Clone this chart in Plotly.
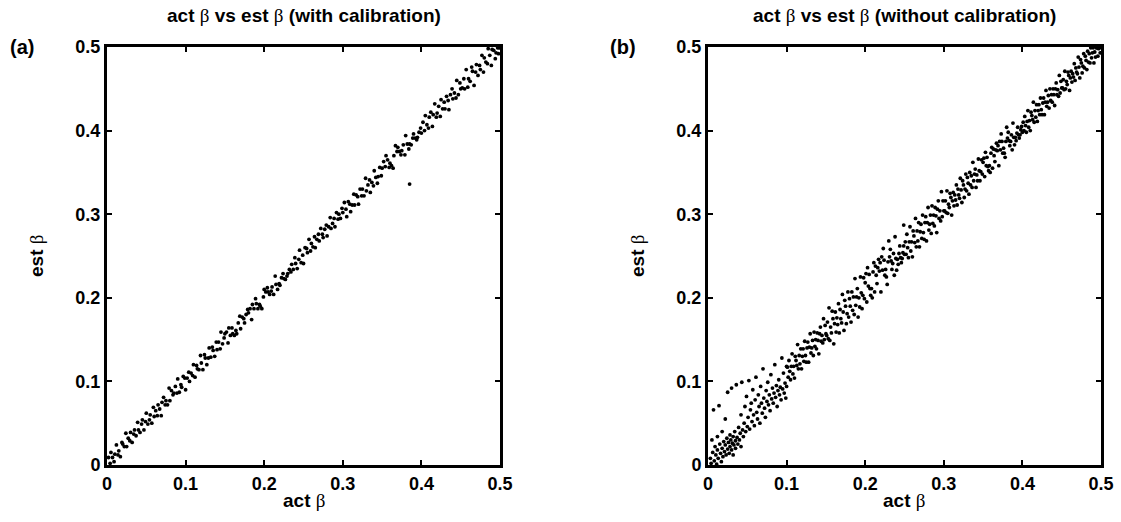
import plotly.graph_objects as go

# ---------- data ----------
act_a = [0.002,0.004,0.005,0.007,0.009,0.010,0.012,0.014,0.015,0.017,0.019,0.020,0.022,0.024,0.025,0.027,0.029,0.030,0.032,0.034,0.035,0.037,0.039,0.040,0.042,0.044,0.045,0.047,0.049,0.050,
         0.052,0.054,0.055,0.057,0.059,0.060,0.062,0.064,0.065,0.067,0.069,0.070,0.072,0.074,0.075,0.077,0.079,0.080,0.082,0.084,0.085,0.087,0.089,0.090,0.092,0.094,0.095,0.097,0.099,0.100,
         0.102,0.104,0.105,0.107,0.109,0.110,0.112,0.114,0.115,0.117,0.119,0.120,0.122,0.124,0.125,0.127,0.129,0.130,0.132,0.134,0.135,0.137,0.139,0.140,0.142,0.144,0.145,0.147,0.149,0.150,
         0.152,0.154,0.155,0.157,0.159,0.160,0.162,0.164,0.165,0.167,0.169,0.170,0.172,0.174,0.175,0.177,0.179,0.180,0.182,0.184,0.185,0.187,0.189,0.190,0.192,0.194,0.195,0.197,0.199,0.200,
         0.202,0.204,0.205,0.207,0.209,0.210,0.212,0.214,0.215,0.217,0.219,0.220,0.222,0.224,0.225,0.227,0.229,0.230,0.232,0.234,0.235,0.237,0.239,0.240,0.242,0.244,0.245,0.247,0.249,0.250,
         0.252,0.254,0.255,0.257,0.259,0.260,0.262,0.264,0.265,0.267,0.269,0.270,0.272,0.274,0.275,0.277,0.279,0.280,0.282,0.284,0.285,0.287,0.289,0.290,0.292,0.294,0.295,0.297,0.299,0.300,
         0.302,0.304,0.305,0.307,0.309,0.310,0.312,0.314,0.315,0.317,0.319,0.320,0.322,0.324,0.325,0.327,0.329,0.330,0.332,0.334,0.335,0.337,0.339,0.340,0.342,0.344,0.345,0.347,0.349,0.350,
         0.352,0.354,0.355,0.357,0.359,0.360,0.362,0.364,0.365,0.367,0.369,0.370,0.372,0.374,0.375,0.377,0.379,0.380,0.382,0.384,0.385,0.387,0.389,0.390,0.392,0.394,0.395,0.397,0.399,0.400,0.385,
         0.402,0.404,0.405,0.407,0.409,0.410,0.412,0.414,0.415,0.417,0.419,0.420,0.422,0.424,0.425,0.427,0.429,0.430,0.432,0.434,0.435,0.437,0.439,0.440,0.442,0.444,0.445,0.447,0.449,0.450,
         0.452,0.454,0.455,0.457,0.459,0.460,0.462,0.464,0.465,0.467,0.469,0.470,0.472,0.474,0.475,0.477,0.479,0.480,0.482,0.484,0.485,0.487,0.489,0.490,0.492,0.494,0.495,0.497,0.498,0.499]
est_a = [0.009,0.002,0.015,0.009,0.004,0.013,0.024,0.012,0.017,0.010,0.027,0.025,0.022,0.038,0.022,0.032,0.029,0.039,0.027,0.037,0.042,0.035,0.051,0.042,0.039,0.049,0.054,0.042,0.052,0.062,
         0.049,0.054,0.060,0.050,0.069,0.058,0.065,0.059,0.072,0.067,0.059,0.075,0.081,0.072,0.077,0.072,0.092,0.077,0.089,0.084,0.086,0.094,0.086,0.103,0.087,0.096,0.093,0.106,0.104,0.090,
         0.104,0.111,0.100,0.110,0.107,0.120,0.105,0.119,0.115,0.114,0.131,0.122,0.114,0.132,0.128,0.120,0.128,0.140,0.129,0.141,0.137,0.130,0.147,0.138,0.147,0.139,0.159,0.145,0.152,0.157,
         0.159,0.146,0.164,0.155,0.164,0.157,0.155,0.161,0.157,0.170,0.178,0.163,0.177,0.175,0.170,0.180,0.186,0.182,0.187,0.174,0.192,0.187,0.199,0.193,0.187,0.192,0.190,0.187,0.201,0.210,
         0.207,0.212,0.207,0.204,0.208,0.213,0.204,0.226,0.216,0.210,0.217,0.215,0.224,0.229,0.223,0.222,0.226,0.229,0.234,0.231,0.240,0.234,0.248,0.241,0.235,0.246,0.257,0.242,0.251,0.241,
         0.260,0.259,0.254,0.270,0.256,0.265,0.261,0.273,0.260,0.270,0.276,0.268,0.283,0.276,0.272,0.282,0.287,0.274,0.285,0.296,0.283,0.289,0.295,0.285,0.302,0.294,0.300,0.295,0.307,0.302,
         0.314,0.306,0.297,0.315,0.312,0.303,0.311,0.324,0.311,0.323,0.321,0.312,0.330,0.322,0.330,0.322,0.343,0.328,0.335,0.341,0.326,0.338,0.334,0.352,0.344,0.337,0.345,0.356,0.346,0.355,
         0.363,0.357,0.370,0.365,0.356,0.361,0.358,0.355,0.370,0.382,0.375,0.380,0.375,0.371,0.376,0.383,0.371,0.394,0.384,0.378,0.384,0.383,0.391,0.396,0.391,0.389,0.392,0.398,0.403,0.397,0.336,
         0.410,0.400,0.418,0.407,0.403,0.416,0.422,0.405,0.419,0.432,0.416,0.421,0.429,0.417,0.437,0.426,0.434,0.426,0.441,0.436,0.425,0.443,0.450,0.438,0.445,0.439,0.460,0.443,0.457,0.450,
         0.451,0.462,0.450,0.473,0.452,0.462,0.459,0.476,0.471,0.454,0.470,0.479,0.466,0.478,0.473,0.490,0.470,0.487,0.482,0.480,0.498,0.490,0.478,0.497,0.496,0.486,0.493,0.499,0.492,0.499]

act_b = [0.003,0.004,0.005,0.006,0.007,0.008,0.009,0.010,0.011,0.012,0.012,0.013,0.014,0.015,0.016,0.017,0.018,0.018,0.019,0.020,0.021,0.022,0.022,0.023,0.024,0.025,0.025,0.026,0.027,0.028,0.028,0.029,0.030,0.030,0.031,0.032,0.032,0.033,0.034,0.035,0.035,0.036,0.037,0.038,0.039,0.040,0.041,0.042,0.042,0.043,0.044,0.045,0.046,0.047,0.048,0.049,0.050,
         0.051,0.052,0.053,0.054,0.055,0.056,0.057,0.058,0.059,0.060,0.061,0.062,0.063,0.064,0.065,0.066,0.067,0.068,0.069,0.070,0.071,0.072,0.073,0.074,0.075,0.076,0.077,0.078,0.079,0.080,0.081,0.082,0.083,0.084,0.085,0.086,0.087,0.088,0.089,0.090,0.091,0.092,0.093,0.094,0.095,0.096,0.097,0.098,0.099,0.100,0.100,
         0.101,0.102,0.103,0.104,0.105,0.106,0.107,0.108,0.109,0.110,0.111,0.112,0.113,0.114,0.115,0.116,0.117,0.118,0.119,0.120,0.121,0.122,0.123,0.124,0.125,0.126,0.127,0.128,0.129,0.130,0.131,0.132,0.133,0.134,0.135,0.136,0.137,0.138,0.139,0.140,0.141,0.142,0.143,0.144,0.145,0.146,0.147,0.148,0.149,0.150,
         0.151,0.152,0.153,0.154,0.155,0.156,0.157,0.158,0.159,0.160,0.161,0.162,0.163,0.164,0.165,0.166,0.167,0.168,0.169,0.170,0.171,0.172,0.173,0.174,0.175,0.176,0.177,0.178,0.179,0.180,0.181,0.182,0.183,0.184,0.185,0.186,0.187,0.188,0.189,0.190,0.191,0.192,0.193,0.194,0.195,0.196,0.197,0.198,0.199,0.200,
         0.201,0.202,0.203,0.204,0.205,0.206,0.207,0.208,0.209,0.210,0.211,0.212,0.213,0.214,0.215,0.216,0.217,0.218,0.219,0.220,0.221,0.222,0.223,0.224,0.225,0.226,0.227,0.228,0.229,0.230,0.231,0.232,0.233,0.234,0.235,0.236,0.237,0.238,0.239,0.240,0.241,0.242,0.243,0.244,0.245,0.246,0.247,0.248,0.249,0.250,0.249,
         0.251,0.252,0.253,0.254,0.255,0.256,0.257,0.258,0.259,0.260,0.261,0.262,0.263,0.264,0.265,0.266,0.267,0.268,0.269,0.270,0.271,0.272,0.273,0.274,0.275,0.276,0.277,0.278,0.279,0.280,0.281,0.282,0.283,0.284,0.285,0.286,0.287,0.288,0.289,0.290,0.291,0.292,0.293,0.294,0.295,0.296,0.297,0.298,0.299,0.300,
         0.301,0.302,0.303,0.304,0.305,0.306,0.307,0.308,0.309,0.310,0.311,0.312,0.313,0.314,0.315,0.316,0.317,0.318,0.319,0.320,0.321,0.322,0.323,0.324,0.325,0.326,0.327,0.328,0.329,0.330,0.331,0.332,0.333,0.334,0.335,0.336,0.337,0.338,0.339,0.340,0.341,0.342,0.343,0.344,0.345,0.346,0.347,0.348,0.349,0.350,
         0.351,0.352,0.353,0.354,0.355,0.356,0.357,0.358,0.359,0.360,0.361,0.362,0.363,0.364,0.365,0.366,0.367,0.368,0.369,0.370,0.371,0.372,0.373,0.374,0.375,0.376,0.377,0.378,0.379,0.380,0.381,0.382,0.383,0.384,0.385,0.386,0.387,0.388,0.389,0.390,0.391,0.392,0.393,0.394,0.395,0.396,0.397,0.398,0.399,0.400,
         0.401,0.402,0.403,0.404,0.405,0.406,0.407,0.408,0.409,0.410,0.411,0.412,0.413,0.414,0.415,0.416,0.417,0.418,0.419,0.420,0.421,0.422,0.423,0.424,0.425,0.426,0.427,0.428,0.429,0.430,0.431,0.432,0.433,0.434,0.435,0.436,0.437,0.438,0.439,0.440,0.441,0.442,0.443,0.444,0.445,0.446,0.447,0.448,0.449,0.450,
         0.451,0.452,0.453,0.454,0.455,0.456,0.457,0.458,0.459,0.460,0.461,0.462,0.463,0.464,0.465,0.466,0.467,0.468,0.469,0.470,0.471,0.472,0.473,0.474,0.475,0.476,0.477,0.478,0.479,0.480,0.481,0.482,0.483,0.484,0.485,0.486,0.487,0.488,0.489,0.490,0.491,0.492,0.493,0.494,0.495,0.496,0.497,0.498,0.499]
est_b = [0.008,0.002,0.030,0.015,0.066,0.005,0.022,0.012,0.001,0.034,0.018,0.008,0.071,0.025,0.014,0.004,0.020,0.040,0.010,0.028,0.016,0.055,0.024,0.012,0.032,0.019,0.087,0.027,0.014,0.036,0.022,0.030,0.018,0.092,0.026,0.034,0.012,0.024,0.040,0.029,0.020,0.096,0.033,0.025,0.045,0.030,0.038,0.060,0.022,0.099,0.042,0.034,0.050,0.070,0.040,0.082,0.046,
         0.057,0.101,0.043,0.066,0.074,0.052,0.090,0.060,0.047,0.078,0.105,0.063,0.055,0.084,0.070,0.050,0.094,0.074,0.062,0.115,0.080,0.068,0.057,0.089,0.076,0.099,0.072,0.084,0.065,0.108,0.079,0.092,0.074,0.086,0.120,0.081,0.095,0.070,0.089,0.102,0.084,0.093,0.078,0.128,0.091,0.110,0.086,0.098,0.080,0.094,0.118,
         0.117,0.105,0.125,0.112,0.102,0.118,0.133,0.109,0.118,0.104,0.130,0.125,0.119,0.144,0.115,0.131,0.121,0.139,0.115,0.130,0.139,0.124,0.148,0.131,0.123,0.140,0.147,0.123,0.141,0.157,0.134,0.140,0.149,0.131,0.159,0.142,0.150,0.139,0.158,0.149,0.133,0.157,0.165,0.148,0.155,0.146,0.175,0.150,0.167,0.157,
         0.155,0.171,0.151,0.188,0.149,0.165,0.158,0.184,0.175,0.145,0.169,0.183,0.159,0.176,0.168,0.193,0.158,0.186,0.175,0.170,0.204,0.183,0.161,0.197,0.190,0.169,0.181,0.207,0.177,0.199,0.190,0.171,0.207,0.185,0.201,0.180,0.223,0.191,0.201,0.211,0.177,0.200,0.189,0.225,0.206,0.187,0.203,0.224,0.199,0.218,
         0.229,0.195,0.236,0.214,0.228,0.211,0.203,0.211,0.200,0.231,0.242,0.207,0.238,0.227,0.217,0.236,0.246,0.232,0.242,0.207,0.249,0.233,0.259,0.245,0.227,0.234,0.225,0.216,0.243,0.268,0.249,0.258,0.244,0.234,0.241,0.253,0.227,0.273,0.247,0.233,0.246,0.240,0.253,0.262,0.248,0.242,0.247,0.254,0.262,0.252,0.287,
         0.267,0.252,0.276,0.260,0.248,0.267,0.285,0.256,0.267,0.249,0.280,0.274,0.266,0.295,0.261,0.280,0.268,0.290,0.261,0.279,0.288,0.271,0.299,0.278,0.270,0.290,0.297,0.268,0.290,0.308,0.281,0.288,0.299,0.277,0.310,0.289,0.299,0.286,0.308,0.298,0.278,0.306,0.316,0.295,0.304,0.292,0.327,0.297,0.316,0.304,
         0.304,0.316,0.302,0.328,0.301,0.312,0.308,0.325,0.320,0.299,0.316,0.326,0.310,0.323,0.317,0.335,0.311,0.330,0.323,0.319,0.343,0.329,0.314,0.340,0.335,0.320,0.330,0.348,0.328,0.344,0.337,0.324,0.350,0.335,0.346,0.332,0.362,0.340,0.348,0.354,0.332,0.347,0.340,0.366,0.352,0.340,0.351,0.365,0.348,0.362,
         0.367,0.345,0.374,0.358,0.368,0.357,0.352,0.358,0.350,0.373,0.380,0.355,0.378,0.370,0.363,0.377,0.385,0.376,0.382,0.358,0.387,0.377,0.396,0.387,0.373,0.379,0.373,0.368,0.387,0.404,0.391,0.398,0.388,0.382,0.387,0.395,0.377,0.409,0.392,0.383,0.392,0.388,0.397,0.404,0.395,0.391,0.395,0.401,0.405,0.398,
         0.410,0.400,0.417,0.406,0.398,0.411,0.424,0.404,0.412,0.400,0.422,0.418,0.413,0.434,0.410,0.424,0.416,0.431,0.411,0.424,0.431,0.419,0.439,0.425,0.419,0.433,0.439,0.419,0.434,0.448,0.429,0.434,0.442,0.427,0.450,0.436,0.443,0.434,0.450,0.443,0.430,0.450,0.457,0.443,0.449,0.441,0.466,0.445,0.459,0.451,
         0.451,0.461,0.449,0.471,0.450,0.459,0.455,0.470,0.466,0.448,0.463,0.471,0.458,0.468,0.464,0.480,0.460,0.475,0.470,0.468,0.488,0.476,0.463,0.485,0.481,0.469,0.477,0.492,0.475,0.489,0.484,0.473,0.495,0.482,0.492,0.481,0.499,0.487,0.493,0.499,0.481,0.494,0.488,0.499,0.499,0.489,0.498,0.499,0.493]

tick_vals = [0, 0.1, 0.2, 0.3, 0.4, 0.5]
tick_text = ["0", "0.1", "0.2", "0.3", "0.4", "0.5"]
BETA = "<span style=\"font-family:'Liberation Serif';font-weight:normal\">β</span>"
titles = ["act " + BETA + " vs est " + BETA + " (with calibration)",
          "act " + BETA + " vs est " + BETA + " (without calibration)"]
panel_labels = ["(a)", "(b)"]
xlabel = "act " + BETA
ylabel = "est " + BETA

W, H = 1121, 522
FONT = "Liberation Sans, Arial, sans-serif"

fig = go.Figure()
fig.add_trace(go.Scatter(x=act_a, y=est_a, mode="markers", xaxis="x", yaxis="y",
                         marker=dict(color="black", size=3.8, line=dict(width=0)), showlegend=False))
fig.add_trace(go.Scatter(x=act_b, y=est_b, mode="markers", xaxis="x2", yaxis="y2",
                         marker=dict(color="black", size=3.8, line=dict(width=0)), showlegend=False))

xl = [(107 / W, 500 / W), (708 / W, 1101 / W)]
yd = ((H - 465) / H, (H - 47) / H)

axis_common = dict(range=[0, 0.5], tickvals=tick_vals, ticktext=tick_text, showgrid=False, zeroline=False,
                   showline=True, linecolor="black", linewidth=3, mirror="ticks", automargin=False,
                   ticks="inside", ticklen=5, tickwidth=2, tickcolor="black",
                   tickfont=dict(family=FONT, size=18, color="black", weight="bold"))

fig.update_layout(
    template="none",
    width=W, height=H, margin=dict(l=0, r=0, t=0, b=0, autoexpand=False),
    paper_bgcolor="white", plot_bgcolor="white",
    xaxis=dict(domain=xl[0], anchor="y", **axis_common),
    yaxis=dict(domain=yd, anchor="x", **axis_common),
    xaxis2=dict(domain=xl[1], anchor="y2", **axis_common),
    yaxis2=dict(domain=yd, anchor="x2", **axis_common),
)

ann = []
for i in range(2):
    cx = (xl[i][0] + xl[i][1]) / 2
    ann.append(dict(text=titles[i], x=cx, y=(H - 15) / H, xref="paper", yref="paper",
                    xanchor="center", yanchor="middle", showarrow=False,
                    font=dict(family=FONT, size=19, color="black", weight="bold")))
    ann.append(dict(text=xlabel, x=cx, y=(H - 500) / H, xref="paper", yref="paper",
                    xanchor="center", yanchor="middle", showarrow=False,
                    font=dict(family=FONT, size=19, color="black", weight="bold")))
    ann.append(dict(text=ylabel, x=(xl[i][0] * W - 71) / W, y=(H - 256) / H, xref="paper", yref="paper",
                    xanchor="center", yanchor="middle", showarrow=False, textangle=-90,
                    font=dict(family=FONT, size=19, color="black", weight="bold")))
    ann.append(dict(text=panel_labels[i], x=(xl[i][0] * W - 85) / W, y=(H - 47) / H, xref="paper", yref="paper",
                    xanchor="center", yanchor="middle", showarrow=False,
                    font=dict(family=FONT, size=20, color="black", weight="bold")))
fig.update_layout(annotations=ann)

fig.write_html("out.html")
